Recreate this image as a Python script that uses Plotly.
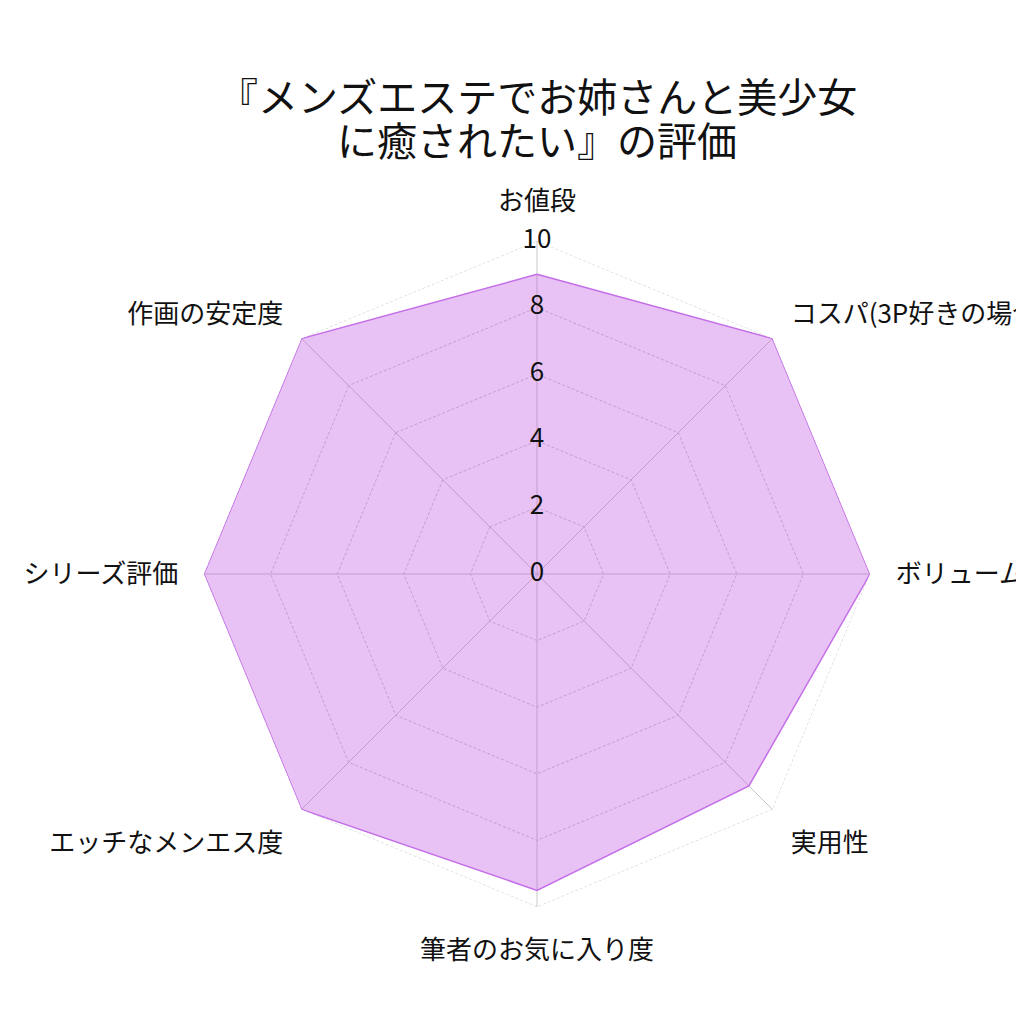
import plotly.graph_objects as go

# Review scores (0-10) per category, clockwise from the top.
categories = [
    'お値段',
    'コスパ(3P好きの場合)',
    'ボリューム',
    '実用性',
    '筆者のお気に入り度',
    'エッチなメンエス度',
    'シリーズ評価',
    '作画の安定度',
]
scores = [9, 10, 10, 9, 9.5, 10, 10, 10]

# Radial tick labels drawn along the first spoke.
tick_values = [0, 2, 4, 6, 8, 10]
tick_labels = ['0', '2', '4', '6', '8', '10']

title_lines = ['『メンズエステでお姉さんと美少女', 'に癒されたい』の評価']

FONT = 'Noto Sans CJK JP'
GRID = '#c8c8c8'

fig = go.Figure()

# Outer dashed ring at the top of the scale (plotly skips the edge gridline).
fig.add_trace(go.Scatterpolar(
    r=[tick_values[-1]] * (len(categories) + 1),
    theta=categories + categories[:1],
    mode='lines',
    line=dict(color=GRID, width=1, dash='3px,2px'),
    showlegend=False,
    hoverinfo='skip',
))

# Close the polygon by repeating the first point.
fig.add_trace(go.Scatterpolar(
    r=scores + scores[:1],
    theta=categories + categories[:1],
    mode='lines',
    fill='toself',
    fillcolor='rgba(190, 80, 225, 0.35)',
    line=dict(color='#c46ee8', width=1.5),
    showlegend=False,
    hoverinfo='skip',
))

# plotly hides a point sitting exactly on the centre, so nudge r=0 a hair.
label_r = [v if v > 0 else 1e-6 for v in tick_values]
fig.add_trace(go.Scatterpolar(
    r=label_r,
    theta=[categories[0]] * len(tick_values),
    mode='text',
    text=tick_labels,
    textposition='middle center',
    textfont=dict(family=FONT, size=26, color='#111111'),
    cliponaxis=False,
    showlegend=False,
    hoverinfo='skip',
))

title_font = dict(family=FONT, size=40, color='#111111')

fig.update_layout(
    width=1024,
    height=1024,
    paper_bgcolor='white',
    plot_bgcolor='white',
    margin=dict(l=64, r=30, t=233, b=125),
    font=dict(family=FONT, color='#111111'),
    polar=dict(
        bgcolor='white',
        gridshape='linear',
        radialaxis=dict(
            range=[0, 10],
            tickvals=tick_values,
            showticklabels=False,
            ticks='',
            showline=False,
            gridcolor=GRID,
            griddash='3px,2px',
            gridwidth=1,
        ),
        angularaxis=dict(
            direction='clockwise',
            rotation=90,
            showline=False,
            gridcolor=GRID,
            gridwidth=1,
            ticks='outside',
            ticklen=20,
            tickcolor='rgba(0,0,0,0)',
            tickfont=dict(family=FONT, size=26, color='#111111'),
        ),
    ),
    annotations=[
        dict(text=title_lines[0], x=0.5, y=1.219, xref='paper',
             yref='paper', xanchor='center', yanchor='middle',
             showarrow=False, font=title_font),
        dict(text=title_lines[1], x=0.5, y=1.153, xref='paper',
             yref='paper', xanchor='center', yanchor='middle',
             showarrow=False, font=title_font),
    ],
)

fig.write_html('out.html')
